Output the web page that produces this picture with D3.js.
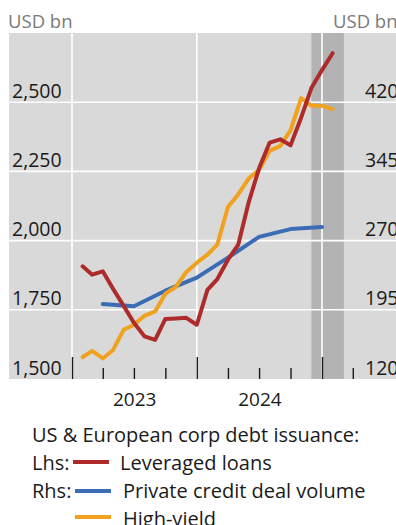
<!DOCTYPE html>
<html>
<head>
<meta charset="utf-8">
<script src="https://cdn.jsdelivr.net/npm/d3@7"></script>
<style>
  html, body { margin: 0; padding: 0; background: #fff; }
  svg { display: block; font-family: "Open Sans", sans-serif; }
</style>
</head>
<body>
<svg id="chart" width="396" height="525"></svg>
<script>
// Monthly observations (month-end), US & European corporate debt issuance
const loanMonths = ["2023-01","2023-02","2023-03","2023-04","2023-05","2023-06","2023-07","2023-08","2023-09","2023-10","2023-11","2023-12",
                    "2024-01","2024-02","2024-03","2024-04","2024-05","2024-06","2024-07","2024-08","2024-09","2024-10","2024-11","2024-12","2025-01"];
// Leveraged loans, USD bn (left axis)
const leveragedLoans = [1907,1877,1889,1826,1764,1703,1654,1641,1717,1719,1721,1696,
                        1822,1861,1931,1985,2140,2261,2354,2366,2344,2444,2551,2616,2677];
// High-yield, USD bn (right axis)
const highYield = [143.6,150.4,142.3,151.5,173.3,178.7,188.5,193.2,212.4,220.0,235.8,246.1,
                   254.8,265.7,306.4,320.0,337.4,346.6,367.3,372.7,389.6,424.4,416.2,416.2,412.4];
// Private credit deal volume, USD bn (right axis), quarterly
const privateMonths = ["2023-03","2023-06","2023-09","2023-12","2024-03","2024-06","2024-09","2024-12"];
const privateCredit = [201.2,198.8,215.7,229.8,251.5,274.0,282.5,284.7];

// Axis ticks
const leftTicks = [1500,1750,2000,2250,2500];
const rightTicks = [120,195,270,345,420];
const yearLabels = [2023,2024];
const shadedPeriod = ["2024-12-01","2025-03-06"];

const svg = d3.select("#chart");
const plot = {left: 9, right: 420, top: 33, bottom: 379};

const parseMonth = d3.timeParse("%Y-%m");
const monthEnd = s => d3.timeMonth.offset(parseMonth(s), 1);

const x = d3.scaleTime()
  .domain([new Date(2023,0,1), new Date(2025,0,1)])
  .range([72, 322]);
const yL = d3.scaleLinear().domain([1500, 2750]).range([plot.bottom, plot.top]);
const yR = d3.scaleLinear().domain([120, 495]).range([plot.bottom, plot.top]);

const colors = {loans: "#ad2b2b", credit: "#3b6db4", hy: "#f0a21f"};

// Plot background
svg.append("rect")
  .attr("x", plot.left).attr("y", plot.top)
  .attr("width", plot.right - plot.left).attr("height", plot.bottom - plot.top)
  .attr("fill", "#d9d9d9");

// Shaded period
const parseDay = d3.timeParse("%Y-%m-%d");
svg.append("rect")
  .attr("x", x(parseDay(shadedPeriod[0])))
  .attr("y", plot.top)
  .attr("width", x(parseDay(shadedPeriod[1])) - x(parseDay(shadedPeriod[0])))
  .attr("height", plot.bottom - plot.top)
  .attr("fill", "#b3b3b3");

// Gridlines
const grid = svg.append("g").attr("stroke", "#ffffff").attr("stroke-width", 1.6);
grid.selectAll("line.h").data(leftTicks.slice(1)).join("line")
  .attr("x1", plot.left).attr("x2", plot.right)
  .attr("y1", d => yL(d)).attr("y2", d => yL(d));
grid.selectAll("line.v").data([2023, 2024, 2025]).join("line")
  .attr("x1", d => x(new Date(d,0,1))).attr("x2", d => x(new Date(d,0,1)))
  .attr("y1", plot.top).attr("y2", plot.bottom);

// Series
const loanData = loanMonths.map((m, i) => ({date: monthEnd(m), v: leveragedLoans[i]}));
const hyData = loanMonths.map((m, i) => ({date: monthEnd(m), v: highYield[i]}));
const pcData = privateMonths.map((m, i) => ({date: monthEnd(m), v: privateCredit[i]}));

const lineL = d3.line().x(d => x(d.date)).y(d => yL(d.v));
const lineR = d3.line().x(d => x(d.date)).y(d => yR(d.v));

function drawLine(data, gen, color) {
  svg.append("path").datum(data)
    .attr("d", gen)
    .attr("fill", "none")
    .attr("stroke", color)
    .attr("stroke-width", 4)
    .attr("stroke-linejoin", "round")
    .attr("stroke-linecap", "round");
}
drawLine(pcData, lineR, colors.credit);
drawLine(hyData, lineR, colors.hy);
drawLine(loanData, lineL, colors.loans);

// Quarterly ticks along the bottom, taller at year starts
const quarters = d3.timeMonth.range(new Date(2023,0,1), new Date(2025,4,1), 3);
const xAxis = svg.append("g")
  .attr("transform", `translate(0,${plot.bottom})`)
  .call(d3.axisBottom(x).tickValues(quarters).tickSizeInner(-11).tickSizeOuter(0).tickFormat(""));
xAxis.select(".domain").remove();
xAxis.selectAll(".tick line")
  .attr("stroke", "#1a1a1a").attr("stroke-width", 1.4)
  .attr("y2", d => d.getMonth() === 0 ? -22 : -11);

// Year labels centred on each year
const yearAxis = svg.append("g")
  .attr("transform", `translate(0,${plot.bottom})`)
  .call(d3.axisBottom(x).tickValues(yearLabels.map(y => new Date(y,6,2))).tickSize(0).tickPadding(0)
    .tickFormat(d3.timeFormat("%Y")));
yearAxis.select(".domain").remove();
yearAxis.selectAll("text")
  .attr("dy", null).attr("y", 27)
  .attr("font-size", 19).attr("font-family", "Open Sans").attr("fill", "#1a1a1a");

// Left axis labels, inside the plot above each gridline
const leftAxis = svg.append("g")
  .attr("transform", `translate(${plot.left},0)`)
  .call(d3.axisRight(yL).tickValues(leftTicks).tickSize(0).tickPadding(3).tickFormat(d3.format(",")));
leftAxis.select(".domain").remove();
leftAxis.selectAll("text")
  .attr("dy", -5).attr("font-size", 19.5).attr("font-family", "Open Sans").attr("fill", "#1a1a1a");

// Right axis labels
const rightAxis = svg.append("g")
  .attr("transform", `translate(365,0)`)
  .call(d3.axisRight(yR).tickValues(rightTicks).tickSize(0).tickPadding(0).tickFormat(d3.format("d")));
rightAxis.select(".domain").remove();
rightAxis.selectAll("text")
  .attr("dy", -5).attr("font-size", 19.5).attr("font-family", "Open Sans").attr("fill", "#1a1a1a");

// Units
svg.append("text").attr("x", 8).attr("y", 28)
  .attr("font-size", 18.5).attr("fill", "#7a7a7a").text("USD bn");
svg.append("text").attr("x", 333).attr("y", 28)
  .attr("font-size", 18.5).attr("fill", "#7a7a7a").text("USD bn");

// Legend
const legend = svg.append("g").attr("font-size", 20).attr("fill", "#1a1a1a");
legend.append("text").attr("x", 32).attr("y", 442).text("US & European corp debt issuance:");
legend.append("text").attr("x", 32).attr("y", 470).text("Lhs:");
legend.append("text").attr("x", 32).attr("y", 498).text("Rhs:");
const legendItems = [
  {label: "Leveraged loans", color: colors.loans, x1: 73, x2: 109, ly: 462, tx: 120, ty: 470},
  {label: "Private credit deal volume", color: colors.credit, x1: 75, x2: 111, ly: 491, tx: 123, ty: 498},
  {label: "High-yield", color: colors.hy, x1: 75, x2: 111, ly: 517, tx: 123, ty: 526}
];
legendItems.forEach(it => {
  legend.append("line")
    .attr("x1", it.x1).attr("x2", it.x2).attr("y1", it.ly).attr("y2", it.ly)
    .attr("stroke", it.color).attr("stroke-width", 4);
  legend.append("text").attr("x", it.tx).attr("y", it.ty).text(it.label);
});
</script>
</body>
</html>
